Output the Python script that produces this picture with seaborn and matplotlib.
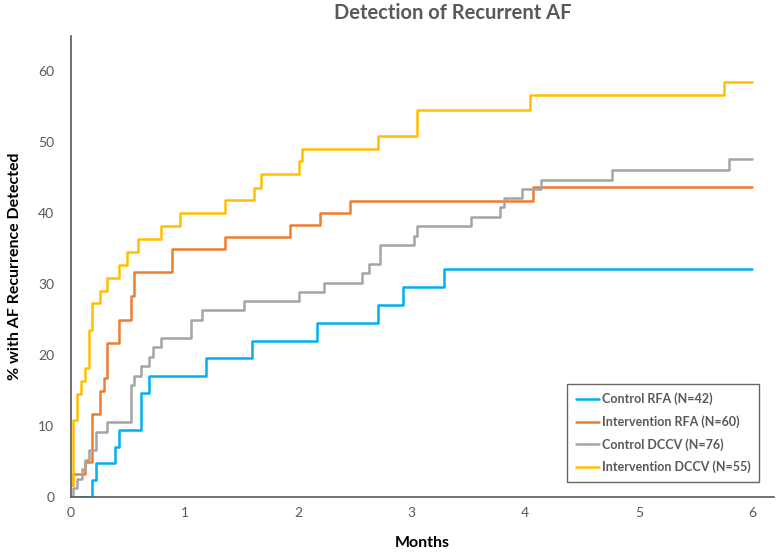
import numpy as np
import pandas as pd
import matplotlib
matplotlib.use("Agg")
import matplotlib.pyplot as plt
import seaborn as sns

# step data (months, % with AF recurrence detected)
ctrl_rfa_t = [0, 0.187, 0.22, 0.39, 0.424, 0.62, 0.69, 1.19, 1.59, 2.17, 2.70, 2.92, 3.28, 6]
ctrl_rfa_v = [0, 2.4, 4.8, 7.1, 9.5, 14.6, 17.1, 19.6, 22.0, 24.5, 27.0, 29.6, 32.2, 32.2]

int_rfa_t = [0, 0.02, 0.125, 0.184, 0.258, 0.29, 0.32, 0.424, 0.525, 0.555, 0.89, 1.356,
             1.93, 2.196, 2.46, 4.07, 6]
int_rfa_v = [1.7, 3.3, 5.0, 11.7, 15.0, 16.7, 21.7, 25.0, 28.3, 31.7, 35.0, 36.7,
             38.3, 40.0, 41.7, 43.7, 43.7]

ctrl_dccv_t = [0, 0.02, 0.055, 0.095, 0.125, 0.16, 0.22, 0.32, 0.525, 0.555, 0.62, 0.69,
               0.72, 0.79, 1.056, 1.154, 1.52, 2.005, 2.23, 2.56, 2.625, 2.72, 3.02, 3.05,
               3.52, 3.78, 3.81, 3.97, 4.14, 4.76, 5.79, 6]
ctrl_dccv_v = [0, 1.3, 2.6, 3.9, 5.2, 6.6, 9.2, 10.5, 15.8, 17.1, 18.4, 19.7,
               21.1, 22.4, 25.0, 26.3, 27.6, 28.9, 30.2, 31.6, 32.9, 35.5, 36.8, 38.2,
               39.5, 40.8, 42.1, 43.4, 44.7, 46.1, 47.6, 47.6]

int_dccv_t = [0, 0.02, 0.053, 0.09, 0.125, 0.157, 0.187, 0.258, 0.32, 0.424, 0.495, 0.59,
              0.79, 0.96, 1.356, 1.61, 1.67, 2.005, 2.035, 2.70, 3.05, 4.045, 5.75, 6]
int_dccv_v = [1.8, 10.9, 14.5, 16.4, 18.2, 23.6, 27.3, 29.1, 30.9, 32.7, 34.5, 36.4,
              38.2, 40.0, 41.8, 43.6, 45.5, 47.3, 49.1, 50.9, 54.5, 56.6, 58.5, 58.5]

labels = ["Control RFA (N=42)", "Intervention RFA (N=60)",
          "Control DCCV (N=76)", "Intervention DCCV (N=55)"]
colors = ["#00B0F0", "#ED7D31", "#A5A5A5", "#FFC000"]

series = [(ctrl_rfa_t, ctrl_rfa_v), (int_rfa_t, int_rfa_v),
          (ctrl_dccv_t, ctrl_dccv_v), (int_dccv_t, int_dccv_v)]
frames = []
for lab, (t, v) in zip(labels, series):
    frames.append(pd.DataFrame({"Months": t, "pct": v, "group": lab}))
df = pd.concat(frames, ignore_index=True)

sns.set_style("white")
plt.rcParams["font.family"] = ["Lato", "DejaVu Sans"]
text_col = "#595959"

fig = plt.figure(figsize=(7.79, 5.53), dpi=100)
ax = fig.add_axes([0.0911, 0.1013, 0.9025, 0.834])

sns.lineplot(data=df, x="Months", y="pct", hue="group", hue_order=labels,
             palette=colors, estimator=None, sort=False, drawstyle="steps-post",
             linewidth=1.8, ax=ax)

ax.set_xlim(0, 6.19)
ax.set_ylim(0, 65)
ax.set_xticks(range(0, 7))
ax.set_yticks(range(0, 61, 10))
for s in ["top", "right"]:
    ax.spines[s].set_visible(False)
for s in ["left", "bottom"]:
    ax.spines[s].set_color("#595959")
    ax.spines[s].set_linewidth(1.2)
ax.tick_params(axis="both", direction="out", length=4, width=1, color="#595959",
               labelsize=10, labelcolor=text_col)
ax.tick_params(axis="y", pad=8)

ax.set_xlabel("Months", fontsize=11.5, fontweight="bold", color="black", labelpad=12)
ax.set_ylabel("% with AF Recurrence Detected", fontsize=11.5, fontweight="bold",
              color="black", labelpad=12)
ax.set_title("Detection of Recurrent AF", fontsize=14.5, fontweight="bold",
             color=text_col, pad=12, x=0.543)

leg = ax.legend(loc="lower right", bbox_to_anchor=(0.979, 0.032), frameon=True,
                fancybox=False, fontsize=9, handlelength=1.9, labelspacing=0.8,
                borderpad=0.7, handletextpad=0.2, borderaxespad=0)
leg.get_frame().set_edgecolor("#404040")
leg.get_frame().set_linewidth(1.0)
for txt in leg.get_texts():
    txt.set_fontweight("bold")
    txt.set_color(text_col)

fig.savefig("out.png", dpi=100)
